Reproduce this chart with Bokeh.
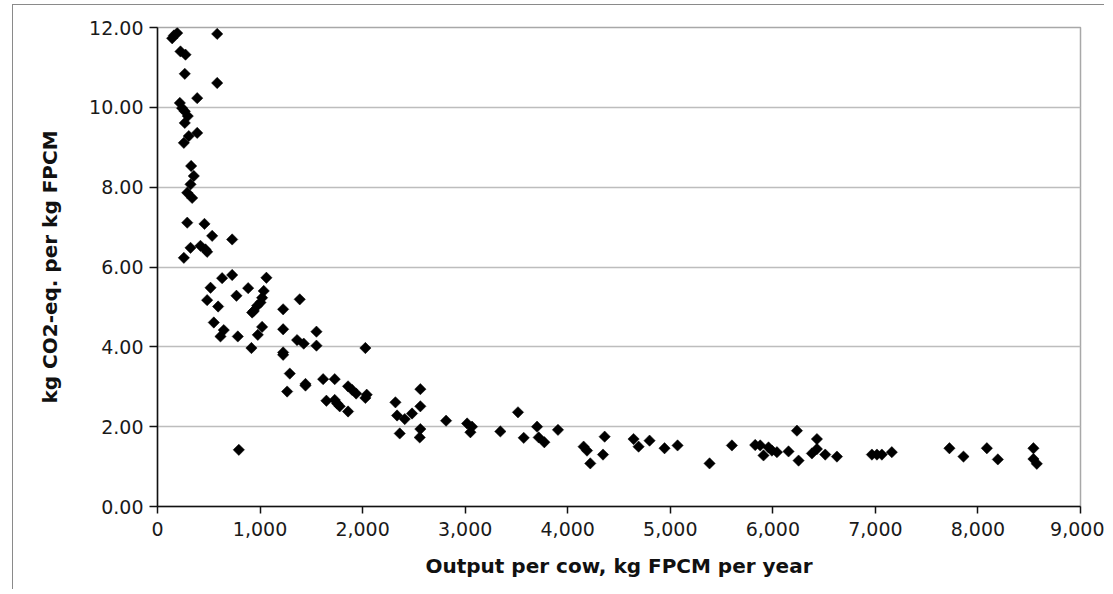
import numpy as np
from bokeh.plotting import figure
from bokeh.models import Range1d, FixedTicker, NumeralTickFormatter, ColumnDataSource
from bokeh.embed import file_html
from bokeh.resources import INLINE

# Output per cow (kg FPCM per year)
output_per_cow = [
    143, 160, 192, 582, 224, 273, 266, 582, 387, 218, 240, 266, 295, 266, 387, 305, 257,
    328, 354, 322, 290, 338, 290, 458, 533, 728, 322, 419, 468, 484, 257,
    517, 630, 728, 484, 591, 770, 884, 1062, 1036, 1020, 1004, 972, 939, 923,
    549, 646, 614, 783, 1020, 978, 916, 1225, 1387, 1225, 1361, 1426, 1550, 1550,
    1225, 1225, 2027, 1290, 1264, 1443, 1443, 1615, 1728, 1647, 1728, 1751, 1777,
    1858, 1858, 1898, 1937, 2027, 2040, 2320, 2336, 2411, 2482, 2362, 2563, 2563,
    2563, 2557, 2814, 793,
    3019, 3067, 3051, 3343, 3515, 3571, 3701, 3717, 3772, 3905, 4155, 4188, 4220,
    4360, 4344, 4642, 4691, 4798, 4944, 5071, 5383, 5601,
    5828, 5877, 5909, 5958, 5991, 6040, 6153, 6235, 6251, 6381, 6430, 6430, 6511,
    6625, 6966, 7015, 7063, 7160, 7722, 7859, 8087, 8194, 8541, 8541, 8574,
]
# kg CO2-eq. per kg FPCM
co2_per_kg = [
    11.73, 11.80, 11.86, 11.84, 11.40, 11.32, 10.84, 10.61, 10.23, 10.11, 9.98, 9.90, 9.78, 9.61, 9.36, 9.28, 9.11,
    8.53, 8.28, 8.07, 7.86, 7.73, 7.11, 7.08, 6.78, 6.69, 6.48, 6.53, 6.44, 6.38, 6.23,
    5.48, 5.72, 5.80, 5.17, 5.01, 5.28, 5.47, 5.73, 5.40, 5.23, 5.11, 5.03, 4.90, 4.86,
    4.61, 4.42, 4.26, 4.26, 4.50, 4.30, 3.97, 4.94, 5.19, 4.44, 4.17, 4.08, 4.38, 4.03,
    3.86, 3.80, 3.97, 3.33, 2.88, 3.07, 3.03, 3.19, 3.19, 2.65, 2.67, 2.58, 2.51,
    2.38, 3.01, 2.92, 2.83, 2.72, 2.80, 2.61, 2.28, 2.19, 2.33, 1.83, 2.94, 2.51,
    1.94, 1.73, 2.15, 1.42,
    2.08, 2.00, 1.86, 1.88, 2.36, 1.72, 2.00, 1.73, 1.61, 1.92, 1.50, 1.40, 1.08,
    1.75, 1.30, 1.69, 1.50, 1.65, 1.46, 1.53, 1.08, 1.53,
    1.54, 1.53, 1.28, 1.48, 1.40, 1.36, 1.38, 1.90, 1.15, 1.33, 1.69, 1.44, 1.30,
    1.25, 1.30, 1.30, 1.30, 1.36, 1.46, 1.25, 1.46, 1.18, 1.46, 1.19, 1.07,
]

x_ticks = [0, 1000, 2000, 3000, 4000, 5000, 6000, 7000, 8000, 9000]
y_ticks = [0, 2, 4, 6, 8, 10, 12]

x_title = "Output per cow, kg FPCM per year"
y_title = "kg CO2-eq. per kg FPCM"

p = figure(
    width=1092, height=585,
    x_range=Range1d(0, 9000), y_range=Range1d(0, 12),
    output_backend="svg", toolbar_location=None,
    min_border_left=144, min_border_right=25, min_border_top=22, min_border_bottom=84,
)
p.margin = (4, 0, 0, 12)
p.styles = {"border-top": "1px solid #8a8a8a", "border-left": "1px solid #8a8a8a"}

p.outline_line_color = "#a8a8a8"
p.outline_line_width = 1.5
p.xgrid.grid_line_color = None
p.ygrid.grid_line_color = "#bdbdbd"
p.ygrid.grid_line_width = 1.5
p.ygrid.ticker = FixedTicker(ticks=y_ticks)

p.xaxis.ticker = FixedTicker(ticks=x_ticks)
p.yaxis.ticker = FixedTicker(ticks=y_ticks)
p.xaxis.formatter = NumeralTickFormatter(format="0,0")
p.yaxis.formatter = NumeralTickFormatter(format="0.00")

for ax in (p.xaxis, p.yaxis):
    ax.axis_line_color = "#111111"
    ax.axis_line_width = 1.5
    ax.major_tick_line_color = "#111111"
    ax.major_tick_line_width = 1.5
    ax.major_tick_in = 0
    ax.minor_tick_line_color = None
    ax.major_label_text_font = "DejaVu Sans"
    ax.major_label_text_font_size = "19px"
    ax.major_label_text_color = "#1a1a1a"
    ax.axis_label_text_font = "DejaVu Sans"
    ax.axis_label_text_font_size = "20px"
    ax.axis_label_text_font_style = "bold"
    ax.axis_label_text_color = "#111111"

p.xaxis.major_tick_out = 7
p.xaxis.major_label_standoff = 8
p.xaxis.axis_label = x_title
p.xaxis.axis_label_standoff = 15
p.yaxis.major_tick_out = 8
p.yaxis.major_label_standoff = 6
p.yaxis.axis_label = y_title
p.yaxis.axis_label_standoff = 24

src = ColumnDataSource(data=dict(x=output_per_cow, y=co2_per_kg))
p.scatter("x", "y", source=src, marker="square", angle=np.pi / 4, size=8,
          fill_color="black", line_color="black", line_width=0.5)

open("out.html", "w").write(file_html(p, INLINE))
